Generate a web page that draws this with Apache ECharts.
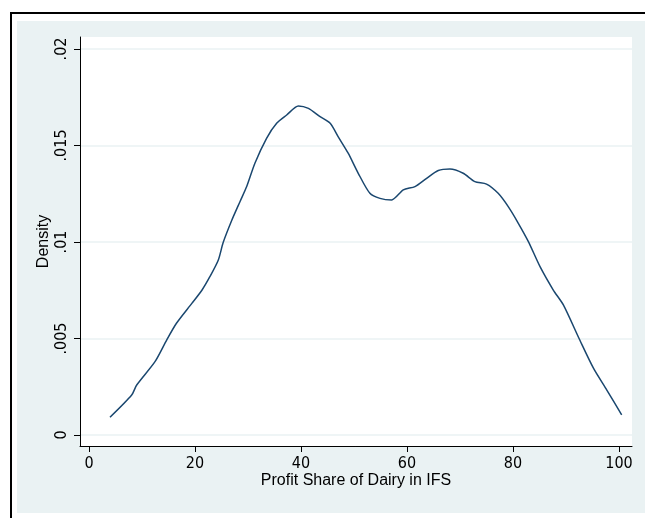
<!DOCTYPE html>
<html>
<head>
<meta charset="utf-8">
<script src="https://cdn.jsdelivr.net/npm/echarts@6/dist/echarts.min.js"></script>
<style>
  html, body { margin: 0; padding: 0; background: #ffffff; }
  #frame { position: absolute; left: 10px; top: 12px; width: 635px; height: 506px;
           border-top: 2px solid #000; border-left: 2px solid #000; box-sizing: border-box; }
  #bg { position: absolute; left: 17px; top: 21px; width: 628px; height: 492px; background: #eaf2f3; }
  #chart { position: absolute; left: 0; top: 0; width: 645px; height: 518px; }
</style>
</head>
<body>
<div id="frame"></div>
<div id="bg"></div>
<div id="chart"></div>
<script>
// Kernel density of profit share of dairy in IFS
const xValues = [3.96, 8.05, 9.0, 12.45, 14.65, 16.5, 19.4, 21.3, 22.8, 24.4, 25.3, 26.9, 28.5, 29.75,
  31.3, 33.5, 35.4, 37.3, 39.5, 41.4, 43.6, 45.5, 47.0, 48.9, 50.8, 53.0, 54.9, 57.1, 59.3, 61.5,
  63.7, 65.9, 68.1, 70.6, 72.8, 75.0, 77.2, 79.1, 81.0, 82.9, 85.1, 87.6, 89.5, 92.6, 95.2, 97.7, 100.5];
const densityValues = [0.00092, 0.00207, 0.00259, 0.0038, 0.00492, 0.00579, 0.00682, 0.0075, 0.0082,
  0.00907, 0.00996, 0.0111, 0.0121, 0.01287, 0.01408, 0.01537, 0.01615, 0.01658, 0.01705, 0.01692,
  0.01649, 0.01615, 0.01546, 0.0146, 0.01356, 0.01252, 0.01226, 0.01218, 0.0127, 0.01287, 0.0133,
  0.0137, 0.01378, 0.01356, 0.01313, 0.013, 0.01252, 0.01183, 0.01097, 0.01002, 0.00872, 0.00751,
  0.00674, 0.00492, 0.00345, 0.00233, 0.00104];
const xTicks = [0, 20, 40, 60, 80, 100];
const xTickLabels = ['0', '20', '40', '60', '80', '100'];
const yTicks = [0, 0.005, 0.01, 0.015, 0.02];
const yTickLabels = ['0', '.005', '.01', '.015', '.02'];
const xTitle = 'Profit Share of Dairy in IFS';
const yTitle = 'Density';

const seriesData = xValues.map((x, i) => [x, densityValues[i]]);
const labelFor = (ticks, labels) => (v) => {
  for (let i = 0; i < ticks.length; i++) if (Math.abs(ticks[i] - v) < 1e-9) return labels[i];
  return '';
};

const tickFont = "'Liberation Sans Narrow', 'DejaVu Sans Condensed', 'Liberation Sans', sans-serif";
const titleFont = "'Liberation Sans', Arial, sans-serif";

const chart = echarts.init(document.getElementById('chart'), null, { renderer: 'canvas' });
chart.setOption({
  animation: false,
  backgroundColor: 'transparent',
  grid: { left: 80, top: 37, right: 13, bottom: 72, show: true, backgroundColor: '#ffffff', borderWidth: 0 },
  xAxis: {
    type: 'value', min: -1.7, max: 102.45,
    axisLine: { show: true, onZero: false, lineStyle: { color: '#000', width: 1 } },
    axisTick: { show: true, customValues: xTicks, length: 6, lineStyle: { color: '#000', width: 1 } },
    axisLabel: { customValues: xTicks, formatter: labelFor(xTicks, xTickLabels), color: '#000',
                 fontFamily: tickFont, fontSize: 16, margin: 10 },
    splitLine: { show: false },
    name: xTitle, nameLocation: 'middle', nameGap: 27, nameMoveOverlap: false,
    nameTextStyle: { color: '#000', fontFamily: titleFont, fontSize: 16 }
  },
  yAxis: {
    type: 'value', min: -0.00057, max: 0.02062,
    axisLine: { show: true, onZero: false, lineStyle: { color: '#000', width: 1 } },
    axisTick: { show: true, customValues: yTicks, length: 6, lineStyle: { color: '#000', width: 1 } },
    axisLabel: { customValues: yTicks, formatter: labelFor(yTicks, yTickLabels), rotate: 90, color: '#000',
                 fontFamily: tickFont, fontSize: 16, margin: 10 },
    splitLine: { show: true, lineStyle: { color: '#eaf2f3', width: 1.5 } },
    name: yTitle, nameLocation: 'middle', nameRotate: 90, nameGap: 28, nameMoveOverlap: false,
    nameTextStyle: { color: '#000', fontFamily: titleFont, fontSize: 16 }
  },
  series: [{
    type: 'line', data: seriesData, showSymbol: false, smooth: 0.25,
    lineStyle: { color: '#1a476f', width: 1.5 }
  }]
});
</script>
</body>
</html>
